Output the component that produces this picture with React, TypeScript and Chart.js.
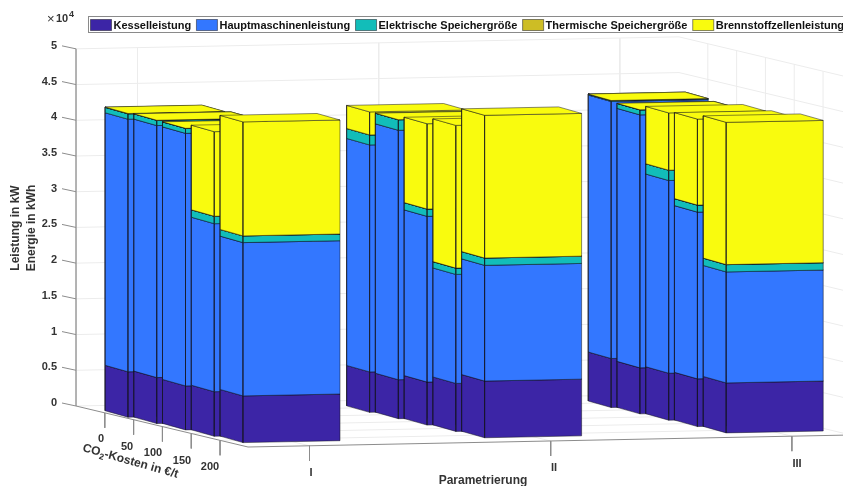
import React, { useEffect, useRef } from "react";
import { Chart, registerables } from "chart.js";

Chart.register(...registerables);

// ---- data (kW / kWh) ----
const parameterLabels = ["I", "II", "III"];
const co2Labels = ["0", "50", "100", "150", "200"];
const seriesNames = ["Kesselleistung", "Hauptmaschinenleistung", "Elektrische Speichergröße", "Thermische Speichergröße", "Brennstoffzellenleistung"];
const seriesColors = ["#3c25a6", "#3377ff", "#12bdb9", "#cdbd25", "#f9fb0e"];
const yTickValues = [0, 5000, 10000, 15000, 20000, 25000, 30000, 35000, 40000, 45000, 50000];
const yTickLabels = ["0", "0.5", "1", "1.5", "2", "2.5", "3", "3.5", "4", "4.5", "5"];

const kessel = [
  [6360, 6440, 6160, 6240, 6540],
  [5660, 5460, 6020, 6720, 7940],
  [6860, 6440, 6580, 6680, 7000],
];
const hauptmaschine = [
  [35360, 35280, 35360, 23520, 21460],
  [31780, 34920, 23200, 15260, 16200],
  [35980, 35420, 26980, 23340, 15540],
];
const elektrisch = [
  [760, 740, 700, 1040, 940],
  [1400, 1480, 1020, 880, 1020],
  [140, 700, 1440, 980, 1020],
];
const thermisch = [
  [0, 0, 0, 0, 0],
  [0, 0, 0, 0, 0],
  [0, 0, 0, 0, 0],
];
const brennstoff = [
  [40, 0, 0, 11840, 15960],
  [3220, 0, 11940, 19980, 19980],
  [0, 0, 8020, 12040, 19920],
];
const allSeries = [kessel, hauptmaschine, elektrisch, thermisch, brennstoff];

// ---- oblique 3D view of the axes (screen offsets of the three directions) ----
const W = 843, H = 486, AXIS_W = 60;
const PX_PER_PARAM = 241.6, KW_PER_PX = 140, ZERO_Y = 403;
const corner = { a: [76, 406], b: [248, 447], c: [679, 394], d: [851, 435] };
const barOrigin = [105, 410.7];
const stepParam = [241.6, -4.85];
const stepDepth = [28.75, 6.35];
const barDepth = [23, 6.5];
const barWidth = [97, -1.9];

const toData = (px: number, py: number, v = 0) => ({ x: px / PX_PER_PARAM, y: (ZERO_Y - py) * KW_PER_PX + v });
const mix = (p: number[], q: number[], f: number) => [p[0] + (q[0] - p[0]) * f, p[1] + (q[1] - p[1]) * f];

const lineSet = (pts: any[], color: string, width = 1) => ({
  type: "scatter", data: pts, showLine: true, fill: false, borderColor: color, borderWidth: width,
  pointRadius: 0, tension: 0, label: "",
});

function polygon(pts: number[][], v: number[], color: string, label: string) {
  const data = pts.map((p, i) => toData(p[0], p[1], v[i]));
  data.push(data[0]);
  return {
    type: "scatter", data, label, showLine: true, fill: "shape", backgroundColor: color,
    borderColor: "rgba(20,20,30,0.5)", borderWidth: 1, pointRadius: 0, tension: 0,
  };
}

function buildFrame() {
  const grid = "#ececec", axis = "#8c8c8c";
  const { a, b, c, d } = corner;
  const out: any[] = [];
  yTickValues.forEach((v) => {
    out.push(lineSet([toData(a[0], a[1], v), toData(c[0], c[1], v), toData(d[0], d[1], v)], grid));
  });
  [0.102, 0.502, 0.902].forEach((f) => {
    const back = mix(a, c, f), front = mix(b, d, f);
    out.push(lineSet([toData(back[0], back[1], 50000), toData(back[0], back[1]), toData(front[0], front[1])], grid));
  });
  co2Labels.forEach((_, i) => {
    const f = ((i + 1) / 6) * 1.005;
    const left = mix(a, b, f), right = mix(c, d, f);
    out.push(lineSet([toData(left[0], left[1]), toData(right[0], right[1]), toData(right[0], right[1], 50000)], grid));
  });
  out.push(lineSet([toData(a[0], a[1], 50000), toData(a[0], a[1])], "#a8a8a8"));
  out.push(lineSet([toData(a[0], a[1]), toData(b[0], b[1]), toData(d[0], d[1])], axis));
  yTickValues.forEach((v) => {
    out.push(lineSet([toData(a[0] - 14, a[1] - 3, v), toData(a[0], a[1], v)], axis));
  });
  [0.102, 0.502, 0.902].forEach((f) => {
    const t = mix(b, d, f);
    out.push(lineSet([toData(t[0], t[1]), toData(t[0], t[1] + 15)], axis));
  });
  co2Labels.forEach((_, i) => {
    const t = mix(a, b, ((i + 1) / 6) * 1.005);
    out.push(lineSet([toData(t[0], t[1]), toData(t[0], t[1] + 15)], axis));
  });
  return out;
}

function buildBars() {
  const out: any[] = [];
  parameterLabels.forEach((_, p) => {
    co2Labels.forEach((_, i) => {
      const o = [
        barOrigin[0] + stepParam[0] * p + stepDepth[0] * i,
        barOrigin[1] + stepParam[1] * p + stepDepth[1] * i,
      ];
      const f = [o[0] + barDepth[0], o[1] + barDepth[1]];
      const r = [f[0] + barWidth[0], f[1] + barWidth[1]];
      const t = [o[0] + barWidth[0], o[1] + barWidth[1]];
      let bottom = 0;
      allSeries.forEach((series, s) => {
        const top = bottom + series[p][i];
        const col = seriesColors[s], name = seriesNames[s];
        out.push(polygon([o, f, f, o], [bottom, bottom, top, top], col, name));
        out.push(polygon([f, r, r, f], [bottom, bottom, top, top], col, name));
        out.push(polygon([o, f, r, t], [top, top, top, top], col, name));
        bottom = top;
      });
    });
  });
  return out;
}

// ---- axis texts and legend ----
const annotate = {
  id: "annotate",
  afterDraw(chart: any) {
    const ctx = chart.ctx;
    const bold = (n: number) => `bold ${n}px "Liberation Sans", Arial, sans-serif`;
    const ink = "#333333";
    ctx.save();
    ctx.fillStyle = ink;
    ctx.textBaseline = "middle";
    ctx.textAlign = "center";
    ctx.font = bold(11);
    const paramPos = [[311, 473], [554, 468], [797, 464]];
    parameterLabels.forEach((t, i) => ctx.fillText(t, paramPos[i][0], paramPos[i][1]));
    const co2Pos = [[101, 439], [127, 447], [153, 453], [182, 461], [210, 467]];
    co2Labels.forEach((t, i) => ctx.fillText(t, co2Pos[i][0], co2Pos[i][1]));
    ctx.font = bold(12);
    ctx.fillText("Parametrierung", 483, 480.5);

    ctx.save();
    ctx.translate(16, 228);
    ctx.rotate(-Math.PI / 2);
    ctx.fillText("Leistung in kW", 0, 0);
    ctx.fillText("Energie in kWh", 0, 16);
    ctx.restore();

    ctx.save();
    ctx.translate(82, 451);
    ctx.rotate((15.8 * Math.PI) / 180);
    ctx.textAlign = "left";
    ctx.textBaseline = "alphabetic";
    let x = 0;
    ctx.fillText("CO", x, 0);
    x += ctx.measureText("CO").width;
    ctx.font = bold(8.5);
    ctx.fillText("2", x, 3);
    x += ctx.measureText("2").width;
    ctx.font = bold(12);
    ctx.fillText("-Kosten in €/t", x, 0);
    ctx.restore();

    ctx.textAlign = "left";
    ctx.font = `13px "Liberation Sans", Arial, sans-serif`;
    ctx.fillText("×", 47, 19);
    ctx.font = bold(11);
    ctx.fillText("10", 56, 18.5);
    ctx.font = bold(9);
    ctx.fillText("4", 69, 15);

    // legend
    ctx.fillStyle = "#ffffff";
    ctx.strokeStyle = "#8a8a8a";
    ctx.lineWidth = 1;
    ctx.fillRect(88.5, 16.5, W, 16);
    ctx.strokeRect(88.5, 16.5, W, 16);
    let lx = 90.5;
    ctx.font = bold(11);
    seriesNames.forEach((name, i) => {
      ctx.fillStyle = seriesColors[i];
      ctx.fillRect(lx, 19.5, 21, 11);
      ctx.strokeStyle = "rgba(20,20,30,0.5)";
      ctx.strokeRect(lx, 19.5, 21, 11);
      ctx.fillStyle = "#111111";
      ctx.fillText(name, lx + 23, 25.5);
      lx += 23 + ctx.measureText(name).width + 5.3;
    });
    ctx.restore();
  },
};

export default function App() {
  const ref = useRef<HTMLCanvasElement>(null);
  useEffect(() => {
    if (!ref.current) return;
    // Chart.js paints the first dataset last, so reverse the back-to-front list.
    const datasets = [...buildFrame(), ...buildBars()].reverse();
    const chart = new Chart(ref.current, {
      type: "scatter",
      data: { datasets } as any,
      plugins: [annotate],
      options: {
        animation: false,
        responsive: false,
        devicePixelRatio: 1,
        layout: { padding: 0 },
        plugins: { legend: { display: false }, tooltip: { enabled: false }, title: { display: false } },
        scales: {
          x: {
            type: "linear", display: false,
            min: AXIS_W / PX_PER_PARAM, max: W / PX_PER_PARAM,
          },
          y: {
            type: "linear",
            min: (ZERO_Y - H) * KW_PER_PX, max: ZERO_Y * KW_PER_PX,
            grid: { display: false, drawTicks: false }, border: { display: false },
            afterBuildTicks: (s: any) => { s.ticks = yTickValues.map((value) => ({ value })); },
            afterFit: (s: any) => { s.width = AXIS_W; s.paddingTop = 0; s.paddingBottom = 0; },
            ticks: {
              autoSkip: false, padding: 3, color: "#333333",
              font: { family: '"Liberation Sans", Arial, sans-serif', size: 11, weight: "bold" },
              callback: (v: any) => yTickLabels[yTickValues.indexOf(Number(v))],
            },
          },
        },
      } as any,
    });
    return () => chart.destroy();
  }, []);
  return (
    <canvas
      ref={ref}
      width={W}
      height={H}
      style={{ position: "absolute", left: 0, top: 0, width: W, height: H, display: "block" }}
    />
  );
}
